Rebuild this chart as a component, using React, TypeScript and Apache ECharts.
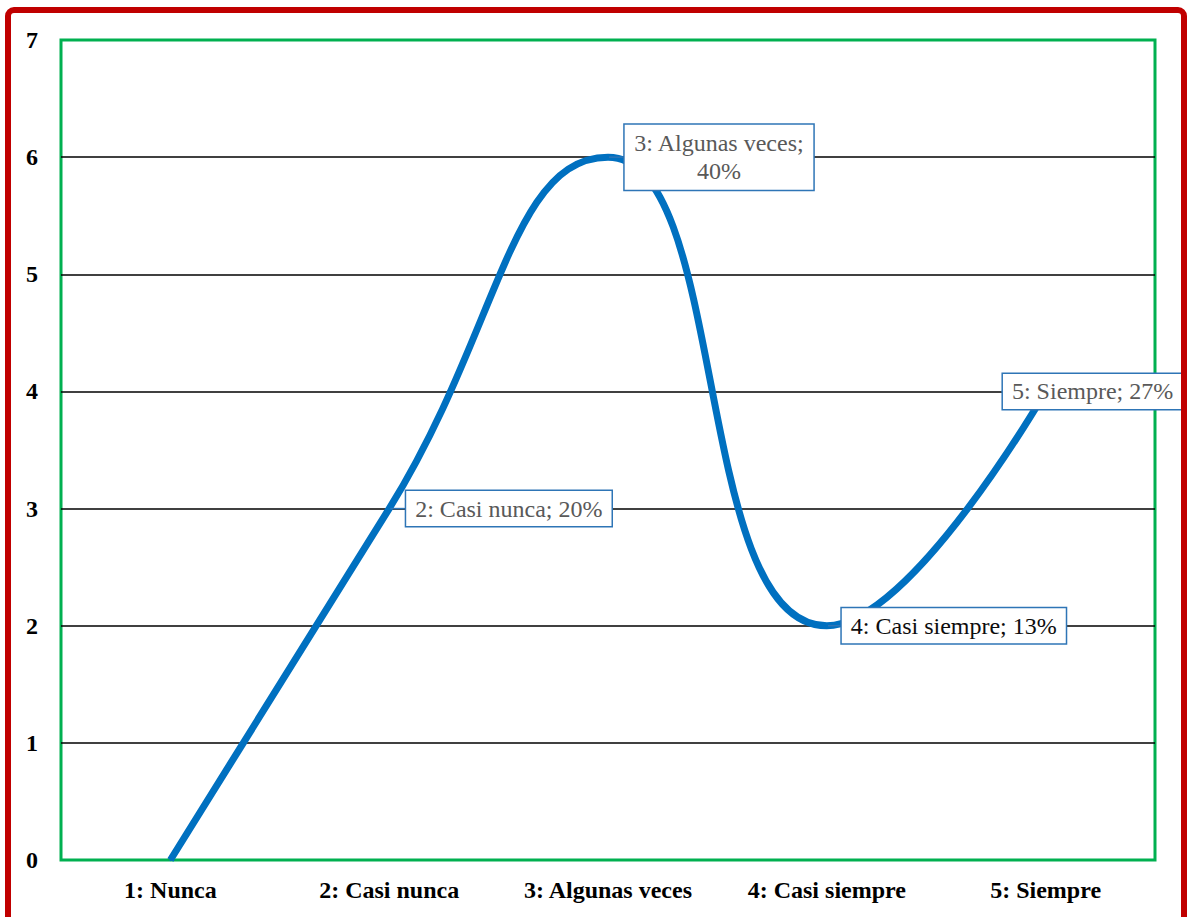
import React, { useEffect, useRef } from "react";
import * as echarts from "echarts";

const categories = ["1: Nunca", "2: Casi nunca", "3: Algunas veces", "4: Casi siempre", "5: Siempre"];
const values = [0, 3, 6, 2, 4];
const percents = ["0%", "20%", "40%", "13%", "27%"];

export default function App() {
  const ref = useRef<HTMLDivElement>(null);
  useEffect(() => {
    if (!ref.current) return;
    const chart = echarts.init(ref.current, null, { renderer: "svg" });
    const boxBase = {
      show: true,
      position: "right",
      distance: 14,
      fontFamily: "Liberation Serif",
      fontSize: 24,
      color: "#595959",
      backgroundColor: "#ffffff",
      borderColor: "#2E75B6",
      borderWidth: 1.5,
      padding: [4, 9, 3, 9],
      lineHeight: 28,
    };
    const data = values.map((v, i) => {
      const name = categories[i].split(": ")[1];
      const idx = categories[i].split(": ")[0];
      if (i === 0) return { value: v, label: { show: false } };
      const lab: any = { ...boxBase, formatter: `${idx}: ${name}; ${percents[i]}` };
      if (i === 1) lab.distance = 16;
      if (i === 2) {
        lab.formatter = `${idx}: ${name};\n${percents[i]}`;
        lab.align = "center";
        lab.distance = 110;
        lab.padding = [5, 9, 4, 9];
      }
      if (i === 3) lab.color = "#0d0d0d";
      if (i === 4) {
        lab.align = "center";
        lab.distance = 46;
      }
      return { value: v, label: lab };
    });
    chart.setOption({
      animation: false,
      backgroundColor: "#ffffff",
      grid: {
        left: 61,
        top: 40,
        right: 32,
        bottom: 57,
        show: true,
        borderColor: "#00B050",
        borderWidth: 3,
        backgroundColor: "transparent",
      },
      xAxis: {
        type: "category",
        data: categories,
        boundaryGap: true,
        axisLine: { show: false },
        axisTick: { show: false },
        axisLabel: {
          interval: 0,
          fontFamily: "Liberation Serif",
          fontWeight: "bold",
          fontSize: 24,
          color: "#000000",
          margin: 18,
        },
      },
      yAxis: {
        type: "value",
        min: 0,
        max: 7,
        interval: 1,
        axisLine: { show: false },
        axisTick: { show: false },
        splitLine: {
          showMinLine: false,
          showMaxLine: false,
          lineStyle: { color: "#000000", width: 1.5 },
        },
        axisLabel: {
          fontFamily: "Liberation Serif",
          fontWeight: "bold",
          fontSize: 24,
          color: "#000000",
          margin: 23,
        },
      },
      series: [
        {
          type: "line",
          data,
          smooth: 0.5,
          symbol: "circle",
          symbolSize: 2,
          itemStyle: { color: "#0070C0" },
          lineStyle: { color: "#0070C0", width: 7 },
          z: 3,
          labelLine: {
            show: true,
            smooth: false,
            length2: 0,
            lineStyle: { color: "#2E75B6", width: 1.5 },
          },
          labelLayout: { hideOverlap: false },
        },
      ],
      graphic: [
        {
          type: "rect",
          z: 100,
          shape: { x: 8, y: 10, width: 1176, height: 1000, r: 6 },
          style: { fill: "none", stroke: "#C00000", lineWidth: 6 },
          silent: true,
        },
      ],
    });
    return () => chart.dispose();
  }, []);
  return (
    <div
      ref={ref}
      style={{ position: "fixed", left: 0, top: 0, width: 1187, height: 917 }}
    />
  );
}
